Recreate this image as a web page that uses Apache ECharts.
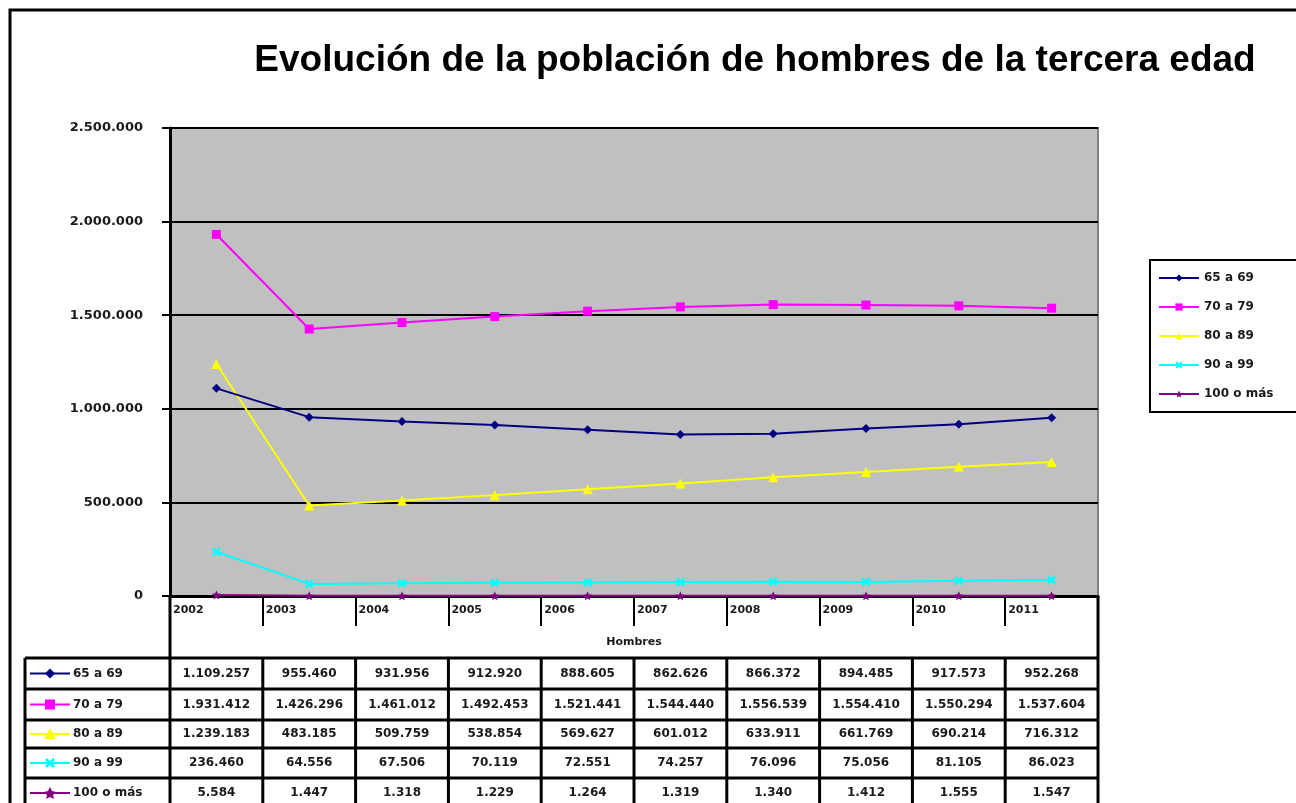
<!DOCTYPE html>
<html>
<head>
<meta charset="utf-8">
<script src="https://cdn.jsdelivr.net/npm/echarts@6/dist/echarts.min.js"></script>
<style>
  html, body { margin: 0; padding: 0; background: #fff; }
  #main { width: 1296px; height: 803px; }
</style>
</head>
<body>
<div id="main"></div>
<script>
// datos
const years = ['2002', '2003', '2004', '2005', '2006', '2007', '2008', '2009', '2010', '2011'];
const names = ['65 a 69', '70 a 79', '80 a 89', '90 a 99', '100 o más'];
const g65 = [1109257, 955460, 931956, 912920, 888605, 862626, 866372, 894485, 917573, 952268];
const g70 = [1931412, 1426296, 1461012, 1492453, 1521441, 1544440, 1556539, 1554410, 1550294, 1537604];
const g80 = [1239183, 483185, 509759, 538854, 569627, 601012, 633911, 661769, 690214, 716312];
const g90 = [236460, 64556, 67506, 70119, 72551, 74257, 76096, 75056, 81105, 86023];
const g100 = [5584, 1447, 1318, 1229, 1264, 1319, 1340, 1412, 1555, 1547];
const yTicks = [0, 500000, 1000000, 1500000, 2000000, 2500000];

const allData = [g65, g70, g80, g90, g100];
const colors = ['#000080', '#ff00ff', '#ffff00', '#00ffff', '#800080'];
const xPath = 'path://M0,2L2,0L5,3L8,0L10,2L7,5L10,8L8,10L5,7L2,10L0,8L3,5Z';
const starPath = 'path://M5,0L6.5,3.5L10,3.8L7.3,6.2L8.1,10L5,8L1.9,10L2.7,6.2L0,3.8L3.5,3.5Z';
const symbols = ['diamond', 'rect', 'triangle', xPath, starPath];

// formato con puntos
const fmt = n => String(n).replace(/\B(?=(\d{3})+(?!\d))/g, '.');

const font = 'DejaVu Sans';
const txtColor = '#1a1a1a';
const myChart = echarts.init(document.querySelector('#main'));

const option = {
  animation: false,
  backgroundColor: '#fff',
  title: {
    text: 'Evolución de la población de hombres de la tercera edad',
    left: 750,
    top: 37,
    textAlign: 'center',
    textStyle: { fontFamily: 'Liberation Sans', fontSize: 37, fontWeight: 'bold', color: '#000' }
  },
  grid: {
    left: 170,
    right: 198,
    top: 128,
    bottom: 207,
    show: true,
    backgroundColor: '#c0c0c0',
    borderColor: '#808080',
    borderWidth: 2
  },
  legend: {
    orient: 'vertical',
    left: 1150,
    top: 260,
    padding: [12, 80, 12, 8],
    itemWidth: 40,
    itemHeight: 9,
    itemGap: 17,
    borderColor: '#000',
    borderWidth: 2,
    backgroundColor: '#fff',
    data: names,
    textStyle: { fontFamily: font, fontSize: 12, fontWeight: 'bold', color: txtColor }
  },
  xAxis: {
    type: 'category',
    data: years,
    boundaryGap: true,
    axisLine: { lineStyle: { color: '#000', width: 3 } },
    axisTick: { show: true, length: 30, interval: 0, lineStyle: { color: '#000', width: 2 } },
    axisLabel: { show: false }
  },
  yAxis: {
    type: 'value',
    min: yTicks[0],
    max: yTicks[yTicks.length - 1],
    interval: 500000,
    axisLine: { show: true, lineStyle: { color: '#000', width: 3 } },
    axisTick: { show: true, length: 8, lineStyle: { color: '#000', width: 2 } },
    axisLabel: {
      margin: 27,
      formatter: v => fmt(v),
      fontFamily: font,
      fontSize: 13,
      fontWeight: 'bold',
      color: txtColor
    },
    splitLine: { lineStyle: { color: '#000', width: 2 } }
  },
  series: names.map((name, i) => ({
    name: name,
    type: 'line',
    data: allData[i],
    symbol: symbols[i],
    symbolSize: i === 2 ? 10 : 9,
    itemStyle: { color: colors[i] },
    lineStyle: { color: colors[i], width: 2 },
    z: 10 - i
  }))
};

myChart.setOption(option);

// tabla de datos debajo del gráfico
const gridLeft = 170, gridRight = 1098, axisY = 596;
const rowLines = [658, 689, 720, 748, 778, 812];
const tableLeft = 25;
const catW = (gridRight - gridLeft) / years.length;

const g = [];
const line = (x1, y1, x2, y2, w) => g.push({
  type: 'line', silent: true, z: 50,
  shape: { x1, y1, x2, y2 },
  style: { stroke: '#000', lineWidth: w || 3 }
});
const text = (x, y, t, align, size) => g.push({
  type: 'text', silent: true, z: 51,
  x, y,
  style: { text: t, fill: txtColor, font: 'bold ' + (size || 12) + 'px "' + font + '"', align: align || 'center', verticalAlign: 'middle' }
});

// marco exterior
g.push({ type: 'rect', silent: true, z: 0, shape: { x: 10, y: 10, width: 1400, height: 900 }, style: { fill: 'none', stroke: '#000', lineWidth: 3 } });

// años y rótulo del eje
years.forEach((y, i) => {
  const cx = myChart.convertToPixel({ xAxisIndex: 0 }, y);
  text(cx - catW / 2 + 3, 610, y, 'left', 11);
});
text((gridLeft + gridRight) / 2, 642, 'Hombres', 'center', 11);

// líneas de la tabla
rowLines.slice(0, 5).forEach(y => line(tableLeft, y, gridRight + 1, y));
line(tableLeft, rowLines[0], tableLeft, 820);
line(gridLeft, axisY, gridLeft, 820);
line(gridRight, axisY, gridRight, 820);
for (let i = 1; i < years.length; i++) {
  const x = gridLeft + catW * i;
  line(x, rowLines[0], x, 820);
}

// claves de cada fila
const keyShape = (i, cx, cy) => {
  const c = colors[i];
  const p = (pts) => g.push({ type: 'polygon', silent: true, z: 52, shape: { points: pts }, style: { fill: c } });
  if (i === 0) p([[cx, cy - 5], [cx + 5, cy], [cx, cy + 5], [cx - 5, cy]]);
  else if (i === 1) p([[cx - 5, cy - 5], [cx + 5, cy - 5], [cx + 5, cy + 5], [cx - 5, cy + 5]]);
  else if (i === 2) p([[cx, cy - 6], [cx + 6, cy + 5], [cx - 6, cy + 5]]);
  else if (i === 3) p([[cx - 5, cy - 3], [cx - 3, cy - 5], [cx, cy - 2], [cx + 3, cy - 5], [cx + 5, cy - 3], [cx + 2, cy], [cx + 5, cy + 3], [cx + 3, cy + 5], [cx, cy + 2], [cx - 3, cy + 5], [cx - 5, cy + 3], [cx - 2, cy]]);
  else p([[cx, cy - 6], [cx + 2, cy - 2], [cx + 6, cy - 1], [cx + 3, cy + 2], [cx + 4, cy + 6], [cx, cy + 4], [cx - 4, cy + 6], [cx - 3, cy + 2], [cx - 6, cy - 1], [cx - 2, cy - 2]]);
};

names.forEach((name, i) => {
  const cy = (rowLines[i] + rowLines[i + 1]) / 2 - (i === 4 ? 2 : 0);
  g.push({ type: 'line', silent: true, z: 52, shape: { x1: 30, y1: cy, x2: 70, y2: cy }, style: { stroke: colors[i], lineWidth: 2 } });
  keyShape(i, 50, cy);
  text(73, cy, name, 'left');
  allData[i].forEach((v, j) => {
    text(gridLeft + catW * (j + 0.5), cy, fmt(v));
  });
});

myChart.setOption({ graphic: g });
</script>
</body>
</html>
